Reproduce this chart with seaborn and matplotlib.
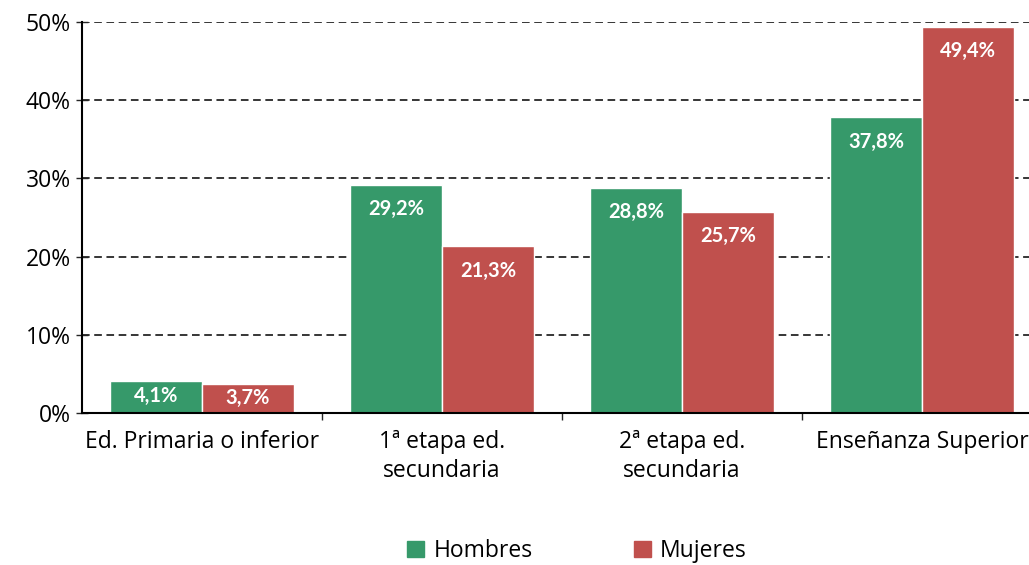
import pandas as pd
import seaborn as sns
import matplotlib.pyplot as plt
from matplotlib.ticker import FuncFormatter, MultipleLocator
from matplotlib.patches import Patch

categorias = ['Ed. Primaria o inferior', '1ª etapa ed.\nsecundaria',
              '2ª etapa ed.\nsecundaria', 'Enseñanza Superior']
hombres = [4.1, 29.2, 28.8, 37.8]
mujeres = [3.7, 21.3, 25.7, 49.4]
series = ['Hombres', 'Mujeres']
colores = ['#36996A', '#C0504D']

df = pd.DataFrame({
    'Nivel': categorias * 2,
    'Sexo': [series[0]] * 4 + [series[1]] * 4,
    'Valor': hombres + mujeres,
})

sns.set_style('white')
plt.rcParams['font.family'] = ['Open Sans', 'DejaVu Sans']

fig = plt.figure(figsize=(10.29, 5.65), dpi=100)
ax = fig.add_axes([82/1029, 1 - 413/565, 960/1029, 391/565])

sns.barplot(data=df, x='Nivel', y='Valor', hue='Sexo', palette=colores,
            width=0.767, ax=ax, legend=False, saturation=1)

# etiquetas de valor dentro de las barras
for cont in ax.containers:
    for bar in cont:
        h = bar.get_height()
        txt = f'{h:.1f}%'.replace('.', ',')
        x = bar.get_x() + bar.get_width() / 2
        if h > 8:
            ax.text(x, h - 1.8, txt, ha='center', va='top', color='white',
                    fontweight='bold', fontsize=14.5, family='Lato')
        else:
            ax.text(x, h / 2 + 0.1, txt, ha='center', va='center', color='white',
                    fontweight='bold', fontsize=14.5, family='Lato')

ax.set_ylim(0, 50)
ax.set_xlim(-0.5, 3.5)
ax.yaxis.set_major_locator(MultipleLocator(10))
ax.yaxis.set_major_formatter(FuncFormatter(lambda v, p: f'{v:.0f}%'))
ax.grid(axis='y', color='black', linestyle=(0, (5, 3)), linewidth=1.1)
ax.set_axisbelow(True)
ax.set_xlabel('')
ax.set_ylabel('')
for s in ['top', 'right']:
    ax.spines[s].set_visible(False)
ax.spines['left'].set_color('black')
ax.spines['bottom'].set_color('black')
ax.spines['left'].set_linewidth(1.5)
ax.spines['bottom'].set_linewidth(1.5)
ax.tick_params(axis='y', direction='inout', length=8, width=1, left=True,
               labelsize=16.5, pad=4, labelcolor='black')
ax.tick_params(axis='x', which='major', length=0, labelsize=16.5, pad=12,
               labelcolor='black')
for lbl in ax.get_xticklabels():
    lbl.set_linespacing(1.3)
ax.set_xticks([0.5, 1.5, 2.5], minor=True)
ax.tick_params(axis='x', which='minor', direction='out', length=5, width=1,
               bottom=True)

handles = [Patch(color=c, label=s) for c, s in zip(colores, series)]
fig.legend(handles=handles, loc='center', bbox_to_anchor=(577/1029, 1 - 551/565),
           ncol=2, frameon=False, fontsize=16.5, handlelength=0.75,
           handleheight=0.75, columnspacing=4.4, handletextpad=0.4,
           labelcolor='black')

fig.savefig('out.png', dpi=100)
